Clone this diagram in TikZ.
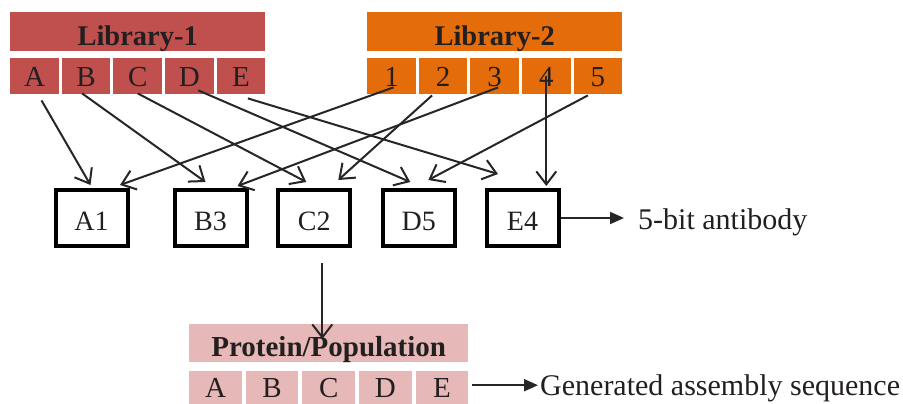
\documentclass[tikz,border=0pt]{standalone}
\usepackage{fontspec}
\setmainfont{Liberation Serif}
\usetikzlibrary{arrows.meta}
\definecolor{libred}{HTML}{C0504D}
\definecolor{liborange}{HTML}{E46C0A}
\definecolor{protpink}{HTML}{E6B9B8}
\definecolor{ink}{HTML}{231F20}
\definecolor{arrowink}{HTML}{262626}
\begin{document}
\begin{tikzpicture}[x=1pt,y=-1pt,
  cell/.style={draw=none, inner sep=0pt, anchor=north west, text=ink},
  hdr/.style={cell, minimum width=255pt, minimum height=39pt, font=\fontsize{28.5}{30}\selectfont\bfseries, text height=28pt, text depth=0pt},
  sq/.style={cell, minimum width=48.6pt, minimum height=36pt, font=\fontsize{29}{30}\selectfont, text height=21pt, text depth=0pt},
  phdr/.style={cell, fill=protpink, minimum width=279pt, minimum height=38pt, font=\fontsize{29}{30}\selectfont\bfseries, text height=26pt, text depth=0pt},
  psq/.style={cell, fill=protpink, minimum width=52.6pt, minimum height=34pt, font=\fontsize{29}{30}\selectfont, text height=19pt, text depth=0pt},
  res/.style={draw=black, line width=4pt, minimum width=72pt, minimum height=56pt, inner sep=0pt, text=ink, font=\fontsize{28}{30}\selectfont, text height=24pt, text depth=0pt},
  openarrow/.style={draw=arrowink, line width=2pt, -{Straight Barb[length=13pt,width=20pt]}},
  fillarrow/.style={draw=arrowink, line width=2pt, -{Triangle[length=14pt,width=12pt]}},
  plain/.style={font=\fontsize{30}{32}\selectfont, text=ink, inner ysep=0pt}
]
\useasboundingbox (0,0) rectangle (903,404);
% Library-1
\node[hdr, fill=libred] (lib1) at (10,12) {Library-1};
\node[sq, fill=libred] (cA) at (10,58) {A};
\node[sq, fill=libred] (cB) at (61.6,58) {B};
\node[sq, fill=libred] (cC) at (113.2,58) {C};
\node[sq, fill=libred] (cD) at (164.8,58) {D};
\node[sq, fill=libred] (cE) at (216.4,58) {E};
% Library-2
\node[hdr, fill=liborange] (lib2) at (367,12) {Library-2};
\node[sq, fill=liborange] (c1) at (367,58) {1};
\node[sq, fill=liborange] (c2) at (418.6,58) {2};
\node[sq, fill=liborange] (c3) at (470.2,58) {3};
\node[sq, fill=liborange] (c4) at (521.8,58) {4};
\node[sq, fill=liborange] (c5) at (573.4,58) {5};
% result boxes
\node[res] (A1) at (91.5,218) {A1};
\node[res] (B3) at (210.5,218) {B3};
\node[res] (C2) at (314.3,218) {C2};
\node[res] (D5) at (418.8,218) {D5};
\node[res] (E4) at (522.5,218) {E4};
% protein population
\node[phdr] (ph) at (189,324) {Protein/Population};
\node[psq] (pA) at (189,371) {A};
\node[psq] (pB) at (245.6,371) {B};
\node[psq] (pC) at (302.2,371) {C};
\node[psq] (pD) at (358.8,371) {D};
\node[psq] (pE) at (415.4,371) {E};
% labels
\node[plain, anchor=base west, inner xsep=14pt] (anti) at (624,229) {5-bit antibody};
\node[plain, anchor=base west, inner xsep=2pt] (gen) at (538,395) {Generated assembly sequence};
% connectors
\draw[openarrow] ([shift={(7,6)}]cA.south) -- ([shift={(-1,-3)}]A1.north);
\draw[openarrow] ([shift={(2,-7)}]c1.south) -- ([shift={(28.5,-3)}]A1.north);
\draw[openarrow] ([shift={(-4,-1)}]cB.south) -- ([shift={(-5,-6)}]B3.north);
\draw[openarrow] ([shift={(3.5,-7)}]c3.south) -- ([shift={(27,-2)}]B3.north);
\draw[openarrow] ([shift={(0,-1)}]cC.south) -- ([shift={(-8,-6)}]C2.north);
\draw[openarrow] ([shift={(-11,1)}]c2.south) -- ([shift={(24,-8)}]C2.north);
\draw[openarrow] ([shift={(9,-4)}]cD.south) -- ([shift={(-8.5,-6)}]D5.north);
\draw[openarrow] ([shift={(-10,1)}]c5.south) -- ([shift={(9.5,-8)}]D5.north);
\draw[openarrow] ([shift={(7,4)}]cE.south) -- ([shift={(-24.5,-14)}]E4.north);
\draw[openarrow] (c4.center) -- ([shift={(0,-2)}]c4.center |- E4.north);
\draw[openarrow] ([shift={(8,15)}]C2.south) -- ([shift={(8,15)}]C2.south |- ph.north);
\draw[fillarrow] (E4.east) -- (E4.east -| anti.west);
\draw[fillarrow] ([shift={(4,-3)}]pE.east) -- ([shift={(0,-3)}]pE.east -| gen.west);
\end{tikzpicture}
\end{document}
